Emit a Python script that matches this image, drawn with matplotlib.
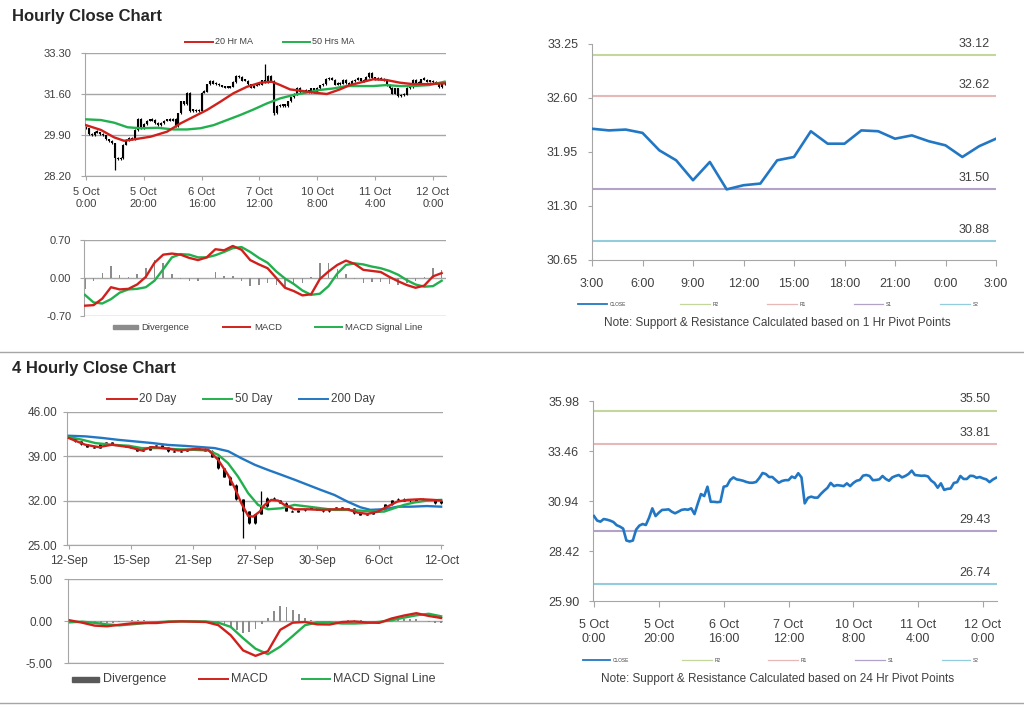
import matplotlib
matplotlib.use('Agg')
import matplotlib.pyplot as plt
from matplotlib.lines import Line2D
from matplotlib.patches import Rectangle
import numpy as np

plt.rcParams['font.family'] = ['Liberation Sans', 'DejaVu Sans']

# ---------------- DATA ----------------
# Hourly closes (5 Oct 0:00 -> 12 Oct ~4:00)
hourly_close = [30.18, 29.95, 29.90, 30.03, 30.00, 29.95, 29.88, 29.72, 29.65, 29.55,
                28.95, 28.90, 28.95, 29.50, 29.70, 29.78, 29.73, 30.10, 30.57, 30.18,
                30.35, 30.49, 30.50, 30.52, 30.40, 30.32, 30.40, 30.49, 30.52, 30.50,
                30.57, 30.28, 30.80, 31.29, 31.19, 31.66, 30.90, 30.90, 30.88, 30.90,
                31.66, 31.70, 32.00, 32.13, 32.03, 32.00, 31.96, 31.90, 31.86, 31.86,
                31.90, 32.10, 32.35, 32.30, 32.15, 32.15, 32.00, 31.86, 31.95, 31.99,
                31.99, 32.17, 32.10, 32.34, 32.13, 30.82, 31.10, 31.16, 31.11, 31.11,
                31.30, 31.46, 31.60, 31.85, 31.69, 31.74, 31.72, 31.69, 31.83, 31.69,
                31.85, 31.96, 32.00, 32.22, 32.25, 32.20, 31.99, 32.00, 32.03, 32.20,
                32.05, 31.96, 32.13, 32.20, 32.25, 32.13, 32.20, 32.30, 32.47, 32.25,
                32.23, 32.21, 32.22, 32.18, 31.97, 31.85, 31.61, 31.83, 31.50, 31.55,
                31.57, 31.85, 31.89, 32.20, 32.05, 32.05, 32.21, 32.20, 32.11, 32.15,
                32.08, 32.03, 31.89, 32.02, 32.11]
hourly_spike_idx = [10, 62, 65]
hourly_spike_val = [28.45, 32.83, 30.75]
hourly_ticks = ['5 Oct\n0:00', '5 Oct\n20:00', '6 Oct\n16:00', '7 Oct\n12:00',
                '10 Oct\n8:00', '11 Oct\n4:00', '12 Oct\n0:00']

ma20_hr_idx = [0, 5.2, 9.8, 13.2, 16.7, 22.4, 28.1, 32.7, 37.3, 41.9, 46.5, 51, 55.7, 60.3,
               64.3, 67.2, 70.6, 74, 78.7, 83.3, 87.8, 91.3, 94.7, 99.3, 103.9, 108.5, 113,
               117.7, 124]
ma20_hr = [30.31, 30.11, 29.80, 29.66, 29.72, 29.83, 30.04, 30.38, 30.66, 30.94, 31.28, 31.63,
           31.90, 32.07, 32.11, 31.97, 31.79, 31.74, 31.66, 31.60, 31.79, 31.97, 32.07, 32.21,
           32.18, 32.07, 32.01, 32.01, 32.04]
ma50_hr_idx = [0, 5.2, 9.8, 14.4, 19, 24.7, 30.4, 35, 39.6, 44.2, 48.8, 53.4, 58, 62.6, 67.2,
               71.8, 76.4, 81, 85.6, 90.1, 94.7, 99.3, 103.9, 108.5, 113, 118.7, 124]
ma50_hr = [30.55, 30.52, 30.41, 30.22, 30.18, 30.20, 30.13, 30.13, 30.18, 30.31, 30.52, 30.73,
           30.96, 31.21, 31.42, 31.56, 31.66, 31.77, 31.83, 31.93, 31.93, 31.93, 31.97, 31.93,
           31.93, 31.97, 32.11]

macd_hr_idx = list(range(0, 124, 3))
macd_hr = [-0.51, -0.50, -0.38, -0.17, -0.21, -0.20, -0.12, 0.02, 0.28, 0.43, 0.45, 0.43, 0.37,
           0.33, 0.38, 0.53, 0.51, 0.59, 0.52, 0.33, 0.25, 0.18, 0.00, -0.18, -0.24, -0.32,
           -0.30, -0.02, 0.12, 0.24, 0.32, 0.26, 0.15, 0.13, 0.11, 0.02, -0.06, -0.13, -0.18,
           -0.14, 0.03, 0.09]
signal_hr = [-0.31, -0.45, -0.47, -0.39, -0.27, -0.21, -0.20, -0.17, -0.05, 0.16, 0.38, 0.44,
             0.43, 0.38, 0.38, 0.42, 0.48, 0.55, 0.57, 0.48, 0.37, 0.28, 0.12, -0.01, -0.11,
             -0.23, -0.31, -0.29, -0.15, 0.08, 0.24, 0.27, 0.25, 0.21, 0.18, 0.13, 0.06, -0.04,
             -0.12, -0.16, -0.15, -0.05]

# Last 24 hours (1 Hr pivots)
day_ticks = ['3:00', '6:00', '9:00', '12:00', '15:00', '18:00', '21:00', '0:00', '3:00']
day_close = [32.23, 32.21, 32.22, 32.18, 31.97, 31.85, 31.61, 31.83, 31.50, 31.55, 31.57,
             31.85, 31.89, 32.20, 32.05, 32.05, 32.21, 32.20, 32.11, 32.15, 32.08, 32.03,
             31.89, 32.02, 32.11]
pivot_1h_names = ['R2', 'R1', 'S1', 'S2']
pivot_1h = [33.12, 32.62, 31.50, 30.88]
pivot_24h = [35.50, 33.81, 29.43, 26.74]

# 4-hourly closes
h4_close = [41.9, 41.36, 40.9, 40.5, 40.3, 40.9, 41.2, 40.9, 40.8, 40.6, 40.3, 39.9, 40.0,
            40.6, 40.8, 40.4, 39.8, 39.75, 39.9, 40.1, 40.3, 40.2, 39.9, 38.9, 37.1, 35.8,
            34.5, 32.2, 30.3, 28.4, 29.9, 31.1, 32.5, 32.1, 31.7, 30.4, 30.2, 30.5, 30.7,
            31.0, 30.6, 30.3, 30.8, 31.0, 30.6, 30.8, 30.0, 29.75, 29.9, 30.2, 30.5, 31.4,
            32.1, 32.3, 32.0, 31.9, 32.2, 32.2, 32.1, 31.6, 32.0]
h4_spike_idx = [28, 31]
h4_spike_val = [26.05, 33.6]
h4_ticks = ['12-Sep', '15-Sep', '21-Sep', '27-Sep', '30-Sep', '6-Oct', '12-Oct']

ma20d_idx = [0, 2.65, 4.8, 6.95, 9.65, 11.75, 13.35, 15.45, 17.65, 20.3, 22.45, 24.05, 25.65,
             26.75, 27.8, 28.9, 29.7, 30.75, 31.55, 32.6, 33.7, 34.75, 36.35, 38.5, 40.65,
             42.8, 44.9, 46.5, 48.15, 49.75, 51.35, 52.95, 54.55, 56.7, 58.8, 60]
ma20d = [41.88, 40.83, 40.46, 40.83, 40.46, 39.93, 40.46, 40.30, 39.93, 40.14, 40.04, 38.45,
         36.08, 33.97, 31.59, 29.59, 29.48, 30.27, 31.33, 32.12, 32.02, 31.33, 30.64, 30.64,
         30.54, 30.64, 30.64, 30.12, 29.91, 30.27, 31.07, 31.86, 32.12, 32.23, 32.12, 32.02]
ma50d_idx = [0, 2.15, 4.3, 6.95, 9.65, 11.75, 14.45, 17.1, 19.8, 22.45, 24.05, 25.65, 27.25,
             28.9, 30.5, 32.1, 34.2, 36.35, 38.5, 40.65, 42.8, 44.9, 47.05, 49.2, 50.8, 52.4,
             54, 55.6, 57.75, 60]
ma50d = [42.04, 41.62, 41.09, 40.83, 40.67, 40.30, 40.30, 40.14, 40.04, 39.93, 39.25, 37.93,
         35.82, 33.18, 31.33, 30.64, 30.80, 31.33, 31.07, 30.80, 30.54, 30.54, 30.43, 30.27,
         30.27, 30.80, 31.33, 31.70, 32.02, 32.12]
ma200d_idx = [0, 2.7, 5.4, 8, 10.7, 13.4, 16, 18.7, 21.4, 23.5, 25.7, 27.8, 30, 32.1, 34.2,
              36.4, 38.5, 40.6, 42.8, 44.9, 47, 48.6, 50.8, 53, 55.1, 57.7, 60]
ma200d = [42.25, 42.15, 41.9, 41.6, 41.35, 41.1, 40.8, 40.65, 40.45, 40.3, 39.8, 38.7, 37.65,
          36.85, 36.1, 35.3, 34.5, 33.7, 32.9, 31.85, 30.95, 30.55, 30.65, 31.05, 31.05,
          31.15, 31.05]

macd_4h_idx = list(range(0, 61, 2))
macd_4h = [0.08, -0.20, -0.55, -0.63, -0.45, -0.28, -0.24, -0.24, -0.10, -0.05, -0.08, -0.12,
           -0.50, -1.70, -3.50, -4.15, -3.60, -1.05, -0.20, -0.12, -0.40, -0.42, -0.12, -0.05,
           -0.18, -0.22, 0.30, 0.65, 0.93, 0.60, 0.36]
signal_4h = [-0.16, -0.08, -0.22, -0.40, -0.52, -0.40, -0.25, -0.15, -0.06, -0.04, -0.04,
             -0.06, -0.20, -0.70, -2.05, -3.30, -3.95, -3.05, -1.80, -0.50, -0.17, -0.16,
             -0.30, -0.30, -0.24, -0.10, 0.08, 0.40, 0.68, 0.86, 0.56]
div_4h = [0.1, 0.05, 0, -0.1, -0.2, -0.25, -0.25, -0.2, -0.1, 0.05, 0.1, 0.12, 0.1, 0.05, 0,
          -0.05, -0.05, -0.05, 0, 0, 0, -0.05, -0.05, -0.1, -0.3, -0.5, -0.8, -1.1, -1.4,
          -1.3, -0.9, -0.4, 0.4, 1.2, 1.8, 1.7, 1.3, 0.8, 0.35, 0.1, -0.15, -0.25, -0.2, -0.1,
          0.05, 0.15, 0.15, 0.1, 0.0, -0.05, 0.05, 0.15, 0.25, 0.3, 0.25, 0.25, 0.2, 0.05,
          -0.15, -0.25, -0.2]

# ---------------- STYLE ----------------
W, H = 1024, 706
TXT = '#404040'
GRID = '#a6a6a6'
RED = '#d0201c'
GREEN = '#22b04e'
BLUE = '#2277c4'
PIV_COL = ['#c3d69b', '#e6b9b8', '#b3a2c7', '#93cddd']
DIVC = '#8c8c8c'

fig = plt.figure(figsize=(W / 100, H / 100), dpi=100)


def px_axes(x0, y0, x1, y1):
    return fig.add_axes([x0 / W, 1 - y1 / H, (x1 - x0) / W, (y1 - y0) / H])


def fx(x):
    return x / W


def fy(y):
    return 1 - y / H


def leg_line(x0, x1, y, color, lw):
    fig.add_artist(Line2D([fx(x0), fx(x1)], [fy(y), fy(y)], color=color, lw=lw,
                          transform=fig.transFigure))


def leg_text(x, y, s, size):
    fig.text(fx(x), fy(y), s, fontsize=size, color=TXT, va='center', ha='left')


def leg_box(x0, x1, y, h, color):
    fig.add_artist(Rectangle((fx(x0), fy(y + h / 2)), (x1 - x0) / W, h / H, color=color,
                             transform=fig.transFigure))


def left_style(ax, yticks, ylabels_fmt, ypad, lsize):
    for s in ['top', 'right']:
        ax.spines[s].set_visible(False)
    for s in ['left', 'bottom']:
        ax.spines[s].set_color(GRID)
    ax.set_yticks(yticks)
    ax.set_yticklabels([ylabels_fmt % v for v in yticks])
    ax.set_ylim(yticks[0], yticks[-1])
    ax.yaxis.grid(True, color=GRID, lw=1)
    ax.set_axisbelow(True)
    ax.tick_params(axis='y', length=3, color=GRID, pad=ypad, labelsize=lsize, labelcolor=TXT)
    ax.tick_params(axis='x', length=3, color=GRID, labelsize=lsize, labelcolor=TXT)


def candles(ax, closes, lw, minh, spikes_idx, spikes_val):
    c = np.array(closes, dtype=float)
    o = np.concatenate([[c[0]], c[:-1]])
    x = np.arange(len(c))
    lo = np.minimum(o, c)
    hi = np.maximum(np.maximum(o, c), lo + minh)
    ax.vlines(x, lo - minh / 2, hi + minh / 2, color='black', lw=0.8, zorder=2)
    ax.vlines(x, lo, hi, color='black', lw=lw, zorder=2)
    for i, v in zip(spikes_idx, spikes_val):
        ax.vlines(i, min(v, c[i]), max(v, c[i]), color='black', lw=0.9, zorder=2)


def right_chart(ax, x, closes, yticks, xticks, xlabels, levels, xpad):
    for s in ['top', 'right']:
        ax.spines[s].set_visible(False)
    for s in ['left', 'bottom']:
        ax.spines[s].set_color(GRID)
    for lev, col in zip(levels, PIV_COL):
        ax.axhline(lev, color=col, lw=1.5, zorder=1)
        ax.annotate('%.2f' % lev, xy=(0.985, lev), xycoords=ax.get_yaxis_transform(),
                    xytext=(0, 8), textcoords='offset points', ha='right', va='center',
                    fontsize=9, color=TXT)
    ax.plot(x, closes, color=BLUE, lw=1.9, zorder=3)
    ax.set_yticks(yticks)
    ax.set_yticklabels(['%.2f' % v for v in yticks])
    ax.set_ylim(yticks[0], yticks[-1])
    ax.set_xticks(xticks)
    ax.set_xticklabels(xlabels)
    ax.tick_params(axis='y', length=3, color=GRID, pad=7, labelsize=9, labelcolor=TXT)
    ax.tick_params(axis='x', length=4, color=GRID, pad=xpad, labelsize=9, labelcolor=TXT)


# ---------------- TITLES & SEPARATORS ----------------
fig.text(fx(12), fy(16), 'Hourly Close Chart', fontsize=12, fontweight='bold',
         color='#262626', va='center', ha='left')
fig.text(fx(12), fy(369), '4 Hourly Close Chart', fontsize=12, fontweight='bold',
         color='#262626', va='center', ha='left')
fig.add_artist(Line2D([0, 1], [fy(352), fy(352)], color=GRID, lw=1, transform=fig.transFigure))
fig.add_artist(Line2D([0, 1], [fy(703), fy(703)], color=GRID, lw=1, transform=fig.transFigure))

# ---------------- TOP-LEFT: hourly candles ----------------
ax1 = px_axes(85, 53, 446, 176)
left_style(ax1, [28.20, 29.90, 31.60, 33.30], '%.2f', 7, 8)
candles(ax1, hourly_close, 1.5, 0.06, hourly_spike_idx, hourly_spike_val)
ax1.plot(ma50_hr_idx, ma50_hr, color=GREEN, lw=1.7, zorder=3)
ax1.plot(ma20_hr_idx, ma20_hr, color=RED, lw=1.7, zorder=4)
ax1.set_xlim(-0.3, 124.5)
ax1.set_xticks(range(0, 121, 20))
ax1.set_xticklabels(hourly_ticks, linespacing=1.25)
ax1.tick_params(axis='x', pad=5)

leg_line(185, 213, 42, RED, 1.4)
leg_text(215, 42, '20 Hr MA', 6.5)
leg_line(283, 310, 42, GREEN, 1.4)
leg_text(312, 42, '50 Hrs MA', 6.5)

# ---------------- TOP-LEFT: MACD ----------------
ax2 = px_axes(84, 240, 446, 316)
left_style(ax2, [-0.70, 0.00, 0.70], '%.2f', 6, 8)
div_hr = np.array(macd_hr) - np.array(signal_hr)
ax2.bar(macd_hr_idx, div_hr, width=0.5, color=DIVC, zorder=2)
ax2.plot(macd_hr_idx, signal_hr, color=GREEN, lw=1.7, zorder=3)
ax2.plot(macd_hr_idx, macd_hr, color=RED, lw=1.7, zorder=4)
ax2.set_xlim(-0.3, 124.5)
ax2.set_xticks([])
ax2.spines['bottom'].set_visible(False)

leg_box(113, 138, 327, 4, DIVC)
leg_text(141, 327, 'Divergence', 6.8)
leg_line(223, 250, 327, RED, 1.4)
leg_text(254, 327, 'MACD', 6.8)
leg_line(315, 342, 327, GREEN, 1.4)
leg_text(345, 327, 'MACD Signal Line', 6.8)

# ---------------- TOP-RIGHT ----------------
ax3 = px_axes(592, 44, 996, 260)
right_chart(ax3, list(range(len(day_close))), day_close,
            [30.65, 31.30, 31.95, 32.60, 33.25], list(range(0, 25, 3)), day_ticks,
            pivot_1h, 9)
ax3.set_xlim(0, 24)

leg_line(578, 607, 304, BLUE, 1.3)
leg_text(610, 304, 'CLOSE', 3.5)
leg_line(680, 710, 304, PIV_COL[0], 0.9)
leg_text(713, 304, 'R2', 3.5)
leg_line(767, 797, 304, PIV_COL[1], 0.9)
leg_text(800, 304, 'R1', 3.5)
leg_line(854, 883, 304, PIV_COL[2], 0.9)
leg_text(886, 304, 'S1', 3.5)
leg_line(940, 970, 304, PIV_COL[3], 0.9)
leg_text(973, 304, 'S2', 3.5)
fig.text(fx(777), fy(323), 'Note: Support & Resistance Calculated based on 1 Hr Pivot Points',
         fontsize=8.5, color=TXT, ha='center', va='center')

# ---------------- BOTTOM-LEFT: 4-hourly candles ----------------
ax4 = px_axes(67, 412, 443, 545)
left_style(ax4, [25.00, 32.00, 39.00, 46.00], '%.2f', 4, 8.5)
candles(ax4, h4_close, 2.2, 0.12, h4_spike_idx, h4_spike_val)
ax4.plot(ma200d_idx, ma200d, color=BLUE, lw=1.7, zorder=3)
ax4.plot(ma50d_idx, ma50d, color=GREEN, lw=1.7, zorder=4)
ax4.plot(ma20d_idx, ma20d, color=RED, lw=1.7, zorder=5)
ax4.set_xlim(-0.3, 60.3)
ax4.set_xticks(range(0, 61, 10))
ax4.set_xticklabels(h4_ticks)
ax4.tick_params(axis='x', pad=4, labelsize=8.5)

leg_line(107, 137, 399, RED, 1.4)
leg_text(139, 399, '20 Day', 8.5)
leg_line(203, 232, 399, GREEN, 1.4)
leg_text(235, 399, '50 Day', 8.5)
leg_line(299, 328, 399, BLUE, 1.4)
leg_text(331, 399, '200 Day', 8.5)

# ---------------- BOTTOM-LEFT: MACD ----------------
ax5 = px_axes(68, 579, 443, 663)
left_style(ax5, [-5.00, 0.00, 5.00], '%.2f', 8, 8.5)
ax5.bar(range(len(div_4h)), div_4h, width=0.3, color=DIVC, zorder=2)
ax5.plot(macd_4h_idx, signal_4h, color=GREEN, lw=1.7, zorder=3)
ax5.plot(macd_4h_idx, macd_4h, color=RED, lw=1.7, zorder=4)
ax5.set_xlim(-0.3, 60.3)
ax5.set_xticks([])

leg_box(72, 99, 679, 5, '#595959')
leg_text(103, 679, 'Divergence', 9)
leg_line(199, 228, 679, RED, 1.4)
leg_text(231, 679, 'MACD', 9)
leg_line(302, 330, 679, GREEN, 1.4)
leg_text(333, 679, 'MACD Signal Line', 9)

# ---------------- BOTTOM-RIGHT ----------------
ax6 = px_axes(593, 401, 997, 601)
right_chart(ax6, list(range(len(hourly_close))), hourly_close,
            [25.90, 28.42, 30.94, 33.46, 35.98], list(range(0, 121, 20)), hourly_ticks,
            pivot_24h, 9)
ax6.set_xlim(-0.3, 124.3)
for t in ax6.get_xticklabels():
    t.set_linespacing(1.2)

leg_line(583, 610, 660, BLUE, 1.3)
leg_text(613, 660, 'CLOSE', 3.5)
leg_line(682, 712, 660, PIV_COL[0], 0.9)
leg_text(715, 660, 'R2', 3.5)
leg_line(768, 798, 660, PIV_COL[1], 0.9)
leg_text(801, 660, 'R1', 3.5)
leg_line(855, 885, 660, PIV_COL[2], 0.9)
leg_text(888, 660, 'S1', 3.5)
leg_line(942, 970, 660, PIV_COL[3], 0.9)
leg_text(973, 660, 'S2', 3.5)
fig.text(fx(778), fy(679), 'Note: Support & Resistance Calculated based on 24 Hr Pivot Points',
         fontsize=8.5, color=TXT, ha='center', va='center')

fig.savefig('out.png', dpi=100)
